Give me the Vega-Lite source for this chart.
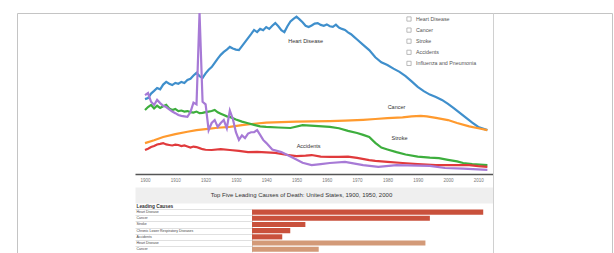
{
  "$schema": "https://vega.github.io/schema/vega-lite/v6.json",
  "width": 595,
  "height": 240,
  "autosize": {"type": "none"},
  "padding": {"left": 17, "top": 13, "right": 2, "bottom": 0},
  "background": "white",
  "config": {"font": "Liberation Sans", "view": {"stroke": "#c4c4c4", "strokeWidth": 1}},
  "title": {"text": "Top Five Leading Causes of Death: United States, 1900, 1950, 2000", "orient": "bottom", "anchor": "middle", "frame": "group", "offset": -61, "dx": -13, "fontSize": 6, "fontWeight": "normal", "color": "#333333"},
  "datasets": {
    "hd": [{"year":1900,"rate":275},{"year":1901,"rate":279},{"year":1902,"rate":296},{"year":1903,"rate":306},{"year":1904,"rate":317},{"year":1905,"rate":312},{"year":1906,"rate":330},{"year":1907,"rate":340},{"year":1908,"rate":333},{"year":1909,"rate":328},{"year":1910,"rate":336},{"year":1911,"rate":333},{"year":1912,"rate":340},{"year":1913,"rate":336},{"year":1914,"rate":347},{"year":1915,"rate":352},{"year":1916,"rate":364},{"year":1917,"rate":374},{"year":1918,"rate":362},{"year":1919,"rate":355},{"year":1920,"rate":372},{"year":1921,"rate":386},{"year":1922,"rate":396},{"year":1923,"rate":412},{"year":1924,"rate":428},{"year":1925,"rate":442},{"year":1926,"rate":453},{"year":1927,"rate":462},{"year":1928,"rate":472},{"year":1929,"rate":466},{"year":1930,"rate":462},{"year":1931,"rate":460},{"year":1932,"rate":475},{"year":1933,"rate":490},{"year":1934,"rate":505},{"year":1935,"rate":520},{"year":1936,"rate":536},{"year":1937,"rate":528},{"year":1938,"rate":540},{"year":1939,"rate":535},{"year":1940,"rate":547},{"year":1941,"rate":540},{"year":1942,"rate":552},{"year":1943,"rate":562},{"year":1944,"rate":550},{"year":1945,"rate":535},{"year":1946,"rate":528},{"year":1947,"rate":550},{"year":1948,"rate":568},{"year":1949,"rate":578},{"year":1950,"rate":586},{"year":1951,"rate":576},{"year":1952,"rate":565},{"year":1953,"rate":552},{"year":1954,"rate":547},{"year":1955,"rate":553},{"year":1956,"rate":560},{"year":1957,"rate":562},{"year":1958,"rate":555},{"year":1959,"rate":552},{"year":1960,"rate":557},{"year":1961,"rate":550},{"year":1962,"rate":548},{"year":1963,"rate":556},{"year":1964,"rate":545},{"year":1965,"rate":540},{"year":1966,"rate":536},{"year":1967,"rate":527},{"year":1968,"rate":520},{"year":1969,"rate":510},{"year":1970,"rate":500},{"year":1972,"rate":480},{"year":1974,"rate":460},{"year":1976,"rate":433},{"year":1978,"rate":414},{"year":1980,"rate":404},{"year":1982,"rate":390},{"year":1984,"rate":378},{"year":1986,"rate":362},{"year":1988,"rate":342},{"year":1990,"rate":321},{"year":1992,"rate":305},{"year":1994,"rate":292},{"year":1996,"rate":283},{"year":1998,"rate":272},{"year":2000,"rate":257},{"year":2002,"rate":240},{"year":2004,"rate":222},{"year":2006,"rate":204},{"year":2008,"rate":186},{"year":2010,"rate":170},{"year":2013,"rate":158}],
    "ca": [{"year":1900,"rate":109},{"year":1903,"rate":120},{"year":1906,"rate":132},{"year":1910,"rate":143},{"year":1914,"rate":152},{"year":1917,"rate":158},{"year":1920,"rate":162},{"year":1924,"rate":167},{"year":1928,"rate":170},{"year":1932,"rate":177},{"year":1936,"rate":182},{"year":1940,"rate":186},{"year":1945,"rate":188},{"year":1950,"rate":190},{"year":1955,"rate":191},{"year":1961,"rate":192},{"year":1966,"rate":194},{"year":1972,"rate":197},{"year":1976,"rate":200},{"year":1980,"rate":203},{"year":1985,"rate":206},{"year":1988,"rate":210},{"year":1991,"rate":212},{"year":1993,"rate":210},{"year":1996,"rate":204},{"year":2000,"rate":196},{"year":2003,"rate":185},{"year":2007,"rate":172},{"year":2010,"rate":165},{"year":2013,"rate":158}],
    "st": [{"year":1900,"rate":234},{"year":1901,"rate":245},{"year":1902,"rate":253},{"year":1903,"rate":240},{"year":1904,"rate":250},{"year":1905,"rate":242},{"year":1906,"rate":248},{"year":1907,"rate":253},{"year":1908,"rate":240},{"year":1909,"rate":234},{"year":1910,"rate":238},{"year":1911,"rate":230},{"year":1912,"rate":232},{"year":1913,"rate":228},{"year":1914,"rate":230},{"year":1915,"rate":226},{"year":1916,"rate":224},{"year":1917,"rate":228},{"year":1918,"rate":222},{"year":1919,"rate":223},{"year":1920,"rate":226},{"year":1921,"rate":228},{"year":1922,"rate":230},{"year":1923,"rate":234},{"year":1924,"rate":225},{"year":1925,"rate":220},{"year":1926,"rate":215},{"year":1927,"rate":210},{"year":1928,"rate":208},{"year":1930,"rate":198},{"year":1932,"rate":190},{"year":1934,"rate":184},{"year":1936,"rate":178},{"year":1938,"rate":172},{"year":1940,"rate":170},{"year":1944,"rate":168},{"year":1948,"rate":166},{"year":1952,"rate":177},{"year":1956,"rate":174},{"year":1961,"rate":170},{"year":1964,"rate":165},{"year":1967,"rate":155},{"year":1970,"rate":147},{"year":1972,"rate":140},{"year":1974,"rate":132},{"year":1976,"rate":110},{"year":1978,"rate":92},{"year":1980,"rate":85},{"year":1983,"rate":75},{"year":1986,"rate":66},{"year":1990,"rate":58},{"year":1994,"rate":54},{"year":1997,"rate":52},{"year":2000,"rate":46},{"year":2003,"rate":40},{"year":2005,"rate":34},{"year":2008,"rate":30},{"year":2013,"rate":26}],
    "ac": [{"year":1900,"rate":83},{"year":1901,"rate":88},{"year":1902,"rate":94},{"year":1903,"rate":98},{"year":1904,"rate":104},{"year":1905,"rate":106},{"year":1906,"rate":109},{"year":1907,"rate":104},{"year":1908,"rate":102},{"year":1909,"rate":100},{"year":1910,"rate":103},{"year":1911,"rate":102},{"year":1912,"rate":98},{"year":1913,"rate":100},{"year":1914,"rate":96},{"year":1915,"rate":92},{"year":1916,"rate":96},{"year":1917,"rate":94},{"year":1918,"rate":90},{"year":1919,"rate":86},{"year":1920,"rate":84},{"year":1922,"rate":83},{"year":1925,"rate":86},{"year":1928,"rate":83},{"year":1931,"rate":80},{"year":1934,"rate":75},{"year":1937,"rate":76},{"year":1940,"rate":74},{"year":1943,"rate":72},{"year":1946,"rate":66},{"year":1950,"rate":60},{"year":1953,"rate":62},{"year":1955,"rate":64},{"year":1958,"rate":58},{"year":1961,"rate":57},{"year":1964,"rate":57},{"year":1967,"rate":58},{"year":1970,"rate":53},{"year":1974,"rate":45},{"year":1976,"rate":42},{"year":1980,"rate":38},{"year":1985,"rate":34},{"year":1990,"rate":30},{"year":1996,"rate":26},{"year":2000,"rate":26},{"year":2007,"rate":26},{"year":2010,"rate":22},{"year":2013,"rate":19}],
    "fl": [{"year":1900,"rate":290},{"year":1901,"rate":298},{"year":1902,"rate":265},{"year":1903,"rate":253},{"year":1904,"rate":272},{"year":1905,"rate":260},{"year":1906,"rate":250},{"year":1907,"rate":245},{"year":1908,"rate":236},{"year":1909,"rate":228},{"year":1910,"rate":222},{"year":1911,"rate":215},{"year":1912,"rate":212},{"year":1913,"rate":210},{"year":1914,"rate":208},{"year":1915,"rate":226},{"year":1916,"rate":262},{"year":1917,"rate":255},{"year":1918,"rate":600},{"year":1919,"rate":265},{"year":1920,"rate":255},{"year":1921,"rate":158},{"year":1922,"rate":185},{"year":1923,"rate":196},{"year":1924,"rate":170},{"year":1925,"rate":185},{"year":1926,"rate":196},{"year":1927,"rate":165},{"year":1928,"rate":232},{"year":1929,"rate":200},{"year":1930,"rate":150},{"year":1931,"rate":121},{"year":1932,"rate":138},{"year":1933,"rate":128},{"year":1934,"rate":145},{"year":1935,"rate":150},{"year":1936,"rate":150},{"year":1937,"rate":158},{"year":1938,"rate":140},{"year":1939,"rate":121},{"year":1940,"rate":110},{"year":1942,"rate":85},{"year":1945,"rate":75},{"year":1949,"rate":53},{"year":1952,"rate":35},{"year":1955,"rate":26},{"year":1958,"rate":30},{"year":1961,"rate":34},{"year":1966,"rate":38},{"year":1972,"rate":26},{"year":1977,"rate":19},{"year":1983,"rate":26},{"year":1994,"rate":23},{"year":1999,"rate":15},{"year":2005,"rate":13},{"year":2013,"rate":8}],
    "labels": [{"label":"Heart Disease","year":1953,"rate":494},{"label":"Cancer","year":1983,"rate":245},{"label":"Stroke","year":1984,"rate":128},{"label":"Accidents","year":1954,"rate":98}],
    "causes": [{"cause":"Heart Disease"},{"cause":"Cancer"},{"cause":"Stroke"},{"cause":"Accidents"},{"cause":"Influenza and Pneumonia"}],
    "table": [{"row":"2000|Heart Disease","period":"2000","deaths":260},{"row":"2000|Cancer","period":"2000","deaths":200},{"row":"2000|Stroke","period":"2000","deaths":60},{"row":"2000|Chronic Lower Respiratory Diseases","period":"2000","deaths":43},{"row":"2000|Accidents","period":"2000","deaths":34},{"row":"1950|Heart Disease","period":"1950","deaths":195},{"row":"1950|Cancer","period":"1950","deaths":75}]
  },
  "resolve": {"scale": {"x": "independent", "y": "independent", "color": "independent"}, "axis": {"x": "independent", "y": "independent"}, "legend": {"color": "independent"}},
  "layer": [
    {
      "encoding": {
        "x": {"field": "year", "type": "quantitative", "scale": {"domain": [1896.7, 2014.85], "range": [118, 476], "nice": false, "zero": false}, "axis": {"orient": "bottom", "offset": -79, "values": [1900,1910,1920,1930,1940,1950,1960,1970,1980,1990,2000,2010], "format": "d", "ticks": false, "grid": false, "labelFontSize": 4.5, "labelColor": "#777777", "labelPadding": 3.5, "domainColor": "#555555", "domainWidth": 1.5, "title": null}},
        "y": {"field": "rate", "type": "quantitative", "scale": {"domain": [-305.7, 600], "nice": false, "zero": false}, "axis": {"orient": "right", "offset": -119, "labels": false, "ticks": false, "grid": false, "title": null, "domainColor": "#d0d0d0"}}
      },
      "layer": [
        {"data": {"name": "hd"}, "mark": {"type": "line", "strokeWidth": 2.2, "clip": true},
         "encoding": {"color": {"datum": "Heart Disease", "type": "nominal",
           "scale": {"domain": ["Heart Disease", "Cancer", "Stroke", "Accidents", "Influenza and Pneumonia"], "range": ["#3f8fcc", "#ff9a2e", "#3dae3d", "#e03a3c", "#a77ad6"]},
           "legend": null}}},
        {"data": {"name": "ca"}, "mark": {"type": "line", "strokeWidth": 2.2, "clip": true}, "encoding": {"color": {"datum": "Cancer", "type": "nominal"}}},
        {"data": {"name": "st"}, "mark": {"type": "line", "strokeWidth": 2.2, "clip": true}, "encoding": {"color": {"datum": "Stroke", "type": "nominal"}}},
        {"data": {"name": "ac"}, "mark": {"type": "line", "strokeWidth": 2.2, "clip": true}, "encoding": {"color": {"datum": "Accidents", "type": "nominal"}}},
        {"data": {"name": "fl"}, "mark": {"type": "line", "strokeWidth": 2.2, "clip": true}, "encoding": {"color": {"datum": "Influenza and Pneumonia", "type": "nominal"}}},
        {"data": {"name": "labels"}, "mark": {"type": "text", "fontSize": 5.5, "color": "#333333"}, "encoding": {"text": {"field": "label", "type": "nominal"}}},
        {"data": {"name": "causes"}, "mark": {"type": "point", "opacity": 0},
         "encoding": {"x": {"value": 0}, "y": {"value": 0},
           "shape": {"field": "cause", "type": "nominal",
             "scale": {"domain": ["Heart Disease", "Cancer", "Stroke", "Accidents", "Influenza and Pneumonia"], "range": ["square", "square", "square", "square", "square"]},
             "legend": {"orient": "none", "legendX": 389, "legendY": 3, "title": null, "padding": 0, "symbolSize": 18, "symbolOpacity": 1, "symbolFillColor": "#f2f2f2", "symbolStrokeColor": "#aaaaaa", "symbolStrokeWidth": 0.8, "labelFontSize": 5.3, "labelColor": "#555555", "labelOffset": 4, "rowPadding": 3.1,
               "encode": {"symbols": {"update": {"fill": {"value": "#f2f2f2"}, "stroke": {"value": "#aaaaaa"}, "opacity": {"value": 1}}}}}}}}
      ]
    },
    {
      "data": {"name": "table"},
      "mark": {"type": "bar"},
      "encoding": {
        "x": {"field": "deaths", "type": "quantitative", "stack": null, "scale": {"domain": [-131.6, 271], "range": [118, 476], "nice": false, "zero": false},
          "axis": {"orient": "top", "offset": -182, "labels": false, "ticks": false, "grid": false, "title": null, "domainColor": "#efefef", "domainWidth": 16}},
        "x2": {"datum": 0},
        "y": {"field": "row", "type": "nominal", "sort": null, "scale": {"range": [196.5, 238.8], "paddingInner": 0.17, "paddingOuter": 0},
          "axis": {"orient": "left", "offset": -235, "bandPosition": 0, "ticks": true, "tickSize": 117, "tickColor": "#d8d8d8", "tickWidth": 0.8, "domain": true, "domainColor": "#cccccc", "labelAlign": "left", "labelBaseline": "middle", "labelPadding": -1, "labelFontSize": 3.5, "labelColor": "#444444", "labelExpr": "split(datum.label, '|')[1]", "grid": false,
            "title": "Leading Causes", "titleAngle": 0, "titleAlign": "left", "titleBaseline": "middle", "titleX": -116, "titleY": 193, "titleFontSize": 4.8, "titleFontWeight": "bold", "titleColor": "#333333"}},
        "color": {"field": "period", "type": "nominal", "scale": {"domain": ["2000", "1950"], "range": ["#c9513c", "#d39a78"]}, "legend": null}
      }
    }
  ]
}
